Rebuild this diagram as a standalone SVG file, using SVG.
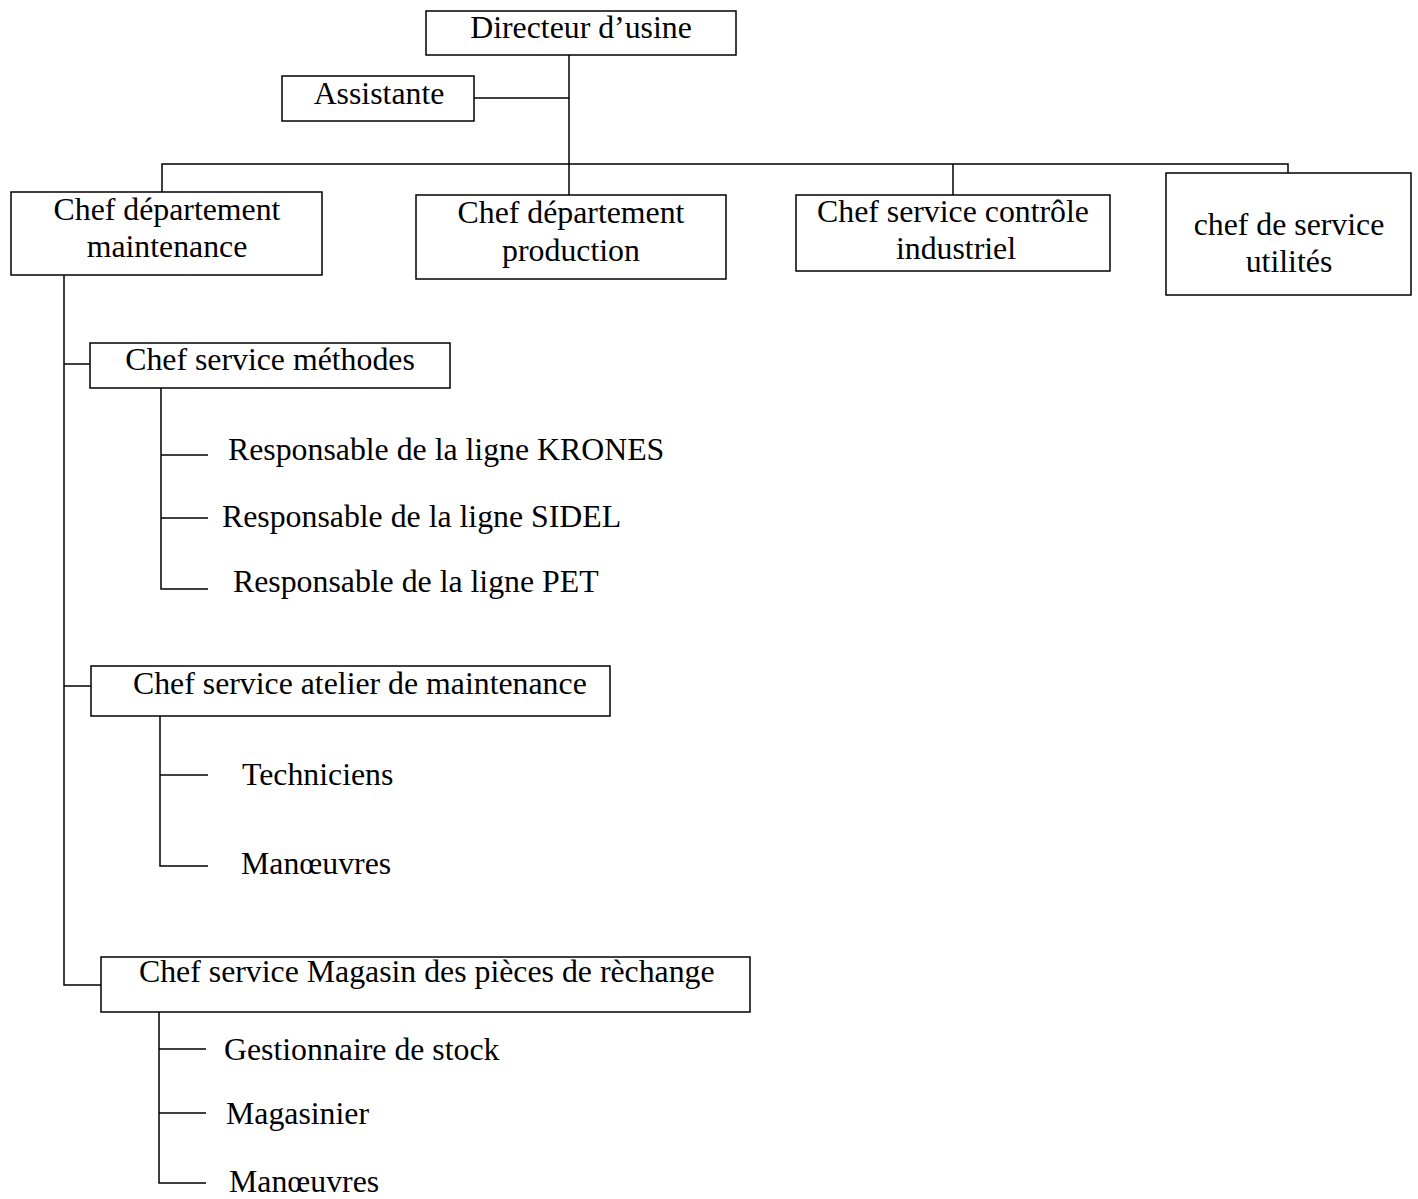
<svg xmlns="http://www.w3.org/2000/svg" width="1418" height="1199" viewBox="0 0 1418 1199">
<style>
  .box { fill: #ffffff; stroke: #000000; stroke-width: 1.5; }
  .ln { fill: none; stroke: #000000; stroke-width: 1.5; }
  text { font-family: "Liberation Serif", "Times New Roman", serif; font-size: 31.8px; fill: #000000; }
  .c { text-anchor: middle; }
</style>
<rect width="1418" height="1199" fill="#ffffff"/>
<g id="connectors">
  <path class="ln" d="M569,55 V196"/>
  <path class="ln" d="M474,98 H569"/>
  <path class="ln" d="M162,192 V164 H1288 V173"/>
  <path class="ln" d="M953,164 V195"/>
  <path class="ln" d="M64,275 V985 H101"/>
  <path class="ln" d="M64,364 H90"/>
  <path class="ln" d="M64,686 H91"/>
  <path class="ln" d="M161,388 V589 H208"/>
  <path class="ln" d="M161,455 H208"/>
  <path class="ln" d="M161,518 H208"/>
  <path class="ln" d="M160,716 V866 H208"/>
  <path class="ln" d="M160,775 H208"/>
  <path class="ln" d="M159,1012 V1183 H206"/>
  <path class="ln" d="M159,1049 H206"/>
  <path class="ln" d="M159,1113 H206"/>
</g>
<g id="directeur">
  <rect class="box" x="426" y="11" width="310" height="44"/>
  <text class="c" x="581" y="38">Directeur d’usine</text>
</g>
<g id="assistante">
  <rect class="box" x="282" y="76" width="192" height="45"/>
  <text class="c" x="379" y="104">Assistante</text>
</g>
<g id="maintenance">
  <rect class="box" x="11" y="192" width="311" height="83"/>
  <text class="c" x="167" y="220">Chef département</text>
  <text class="c" x="167" y="257">maintenance</text>
</g>
<g id="production">
  <rect class="box" x="416" y="195" width="310" height="84"/>
  <text class="c" x="571" y="223">Chef département</text>
  <text class="c" x="571" y="261">production</text>
</g>
<g id="controle">
  <rect class="box" x="796" y="195" width="314" height="76"/>
  <text class="c" x="953" y="222">Chef service contrôle</text>
  <text class="c" x="956" y="259">industriel</text>
</g>
<g id="utilites">
  <rect class="box" x="1166" y="173" width="245" height="122"/>
  <text class="c" x="1289" y="235">chef de service</text>
  <text class="c" x="1289" y="272">utilités</text>
</g>
<g id="methodes">
  <rect class="box" x="90" y="343" width="360" height="45"/>
  <text class="c" x="270" y="370">Chef service méthodes</text>
</g>
<g id="krones"><text x="228" y="460">Responsable de la ligne KRONES</text></g>
<g id="sidel"><text x="222" y="527">Responsable de la ligne SIDEL</text></g>
<g id="pet"><text x="233" y="592">Responsable de la ligne PET</text></g>
<g id="atelier">
  <rect class="box" x="91" y="666" width="519" height="50"/>
  <text x="133" y="694">Chef service atelier de maintenance</text>
</g>
<g id="techniciens"><text x="242" y="785">Techniciens</text></g>
<g id="manoeuvres1"><text x="241" y="874">Manœuvres</text></g>
<g id="magasin">
  <rect class="box" x="101" y="957" width="649" height="55"/>
  <text x="139" y="982">Chef service Magasin des pièces de rèchange</text>
</g>
<g id="gestionnaire"><text x="224" y="1060">Gestionnaire de stock</text></g>
<g id="magasinier"><text x="226" y="1124">Magasinier</text></g>
<g id="manoeuvres2"><text x="229" y="1192">Manœuvres</text></g>
</svg>
